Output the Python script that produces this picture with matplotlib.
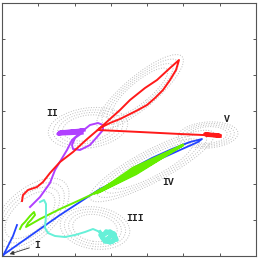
import matplotlib
matplotlib.use("Agg")
import matplotlib.pyplot as plt
from matplotlib.patches import Ellipse

# trajectories (units: pixels from the lower-left corner)
red_x = [20, 21, 26, 35, 41, 48, 58, 71, 84, 98, 108, 118, 128, 143, 155, 168, 177,
         174, 168, 161, 153, 145, 136, 128, 118, 108, 100, 96, 138, 178, 201, 218,
         203, 217, 204, 216]
red_y = [55, 61, 66, 69, 74, 83, 94, 104, 116, 128, 137, 146, 156, 168, 176, 188, 196,
         186, 176, 166, 158, 151, 146, 142, 137, 133, 129, 126, 124, 122, 121, 120,
         122, 121, 121, 120]

purple_x = [28, 33, 38, 43, 48, 53, 59, 65, 70, 78, 88, 96, 101, 101, 95, 88, 78, 71,
            70, 73, 80, 56, 81, 58, 80, 57, 82]
purple_y = [49, 54, 59, 66, 73, 86, 96, 106, 116, 123, 131, 133, 131, 126, 119, 111,
            106, 107, 111, 118, 123, 122, 126, 124, 125, 123, 126]

cyan_x = [38, 42, 44, 44, 43, 46, 53, 63, 73, 83, 91, 98]
cyan_y = [54, 56, 52, 41, 28, 23, 20, 19, 21, 24, 27, 24]
cyan_blob_x = [98, 101, 108, 113, 111, 102, 98, 106, 114, 108, 100, 104, 112, 115,
               103, 107, 110, 104]
cyan_blob_y = [24, 20, 25, 21, 14, 15, 21, 24, 18, 13, 18, 25, 23, 16, 14, 19, 20, 17]

green_x = [18, 20, 23, 28, 32, 33, 29, 26, 24, 38, 58, 78, 93]
green_y = [27, 31, 34, 40, 44, 41, 36, 33, 29, 37, 47, 56, 63]
green_bundle_x = [93, 132, 181, 134, 95, 131, 179, 134, 97, 133, 181, 133, 93]
green_bundle_y = [63, 86, 111, 83, 63, 88, 110, 82, 64, 85, 111, 84, 63]

blue_x = [1, 18, 38, 58, 78, 98, 118, 138, 158, 178, 196, 200, 188, 170, 150, 133,
          128]
blue_y = [1, 13, 27, 41, 54, 67, 77, 87, 97, 106, 114, 117, 114, 107, 98, 89,
          86]
blue_branch_x = [1, 5, 8, 11, 15]
blue_branch_y = [0, 8, 14, 20, 31]

labels = ["I", "II", "III", "IV", "V"]
label_x = [35, 50, 133, 166, 225]
label_y = [11, 143, 38, 74, 137]

# dotted density outlines: centre x, centre y, width, height, angle
blob_cx = [86, 138, 206, 150, 93, 28]
blob_cy = [128, 164, 121, 90, 28, 41]
blob_w = [80, 110, 60, 140, 70, 95]
blob_h = [40, 32, 26, 32, 42, 50]
blob_a = [8, 40, 4, 28, -8, 42]

fig = plt.figure(figsize=(2.59, 2.62), dpi=100)
ax = fig.add_axes([2 / 259, 6 / 262, 254 / 259, 253 / 262])

for cx, cy, w, h, a in zip(blob_cx, blob_cy, blob_w, blob_h, blob_a):
    for s in [1.0, 0.88, 0.76, 0.64]:
        ax.add_patch(Ellipse((cx, cy), w * s, h * s, angle=a, fill=False,
                             ec='#bcbcbc', lw=0.7, ls=':'))

ax.plot(blue_x, blue_y, color='#2244ff', lw=1.3)
ax.plot(blue_branch_x, blue_branch_y, color='#2244ff', lw=1.3)
ax.plot(green_x, green_y, color='#66ee00', lw=1.4)
ax.plot(green_bundle_x, green_bundle_y, color='#66ee00', lw=1.8)
ax.plot(cyan_x, cyan_y, color='#66f0d8', lw=1.4)
ax.plot(cyan_blob_x, cyan_blob_y, color='#66f0d8', lw=2.6)
ax.plot(purple_x[:21], purple_y[:21], color='#b040ff', lw=1.4)
ax.plot(purple_x[20:], purple_y[20:], color='#b040ff', lw=2.4)
ax.plot(red_x[:28], red_y[:28], color='#ff1a1a', lw=1.4)
ax.plot(red_x[27:], red_y[27:], color='#ff1a1a', lw=1.4)
ax.plot(red_x[31:], red_y[31:], color='#ff1a1a', lw=2.6)

for t, x, y in zip(labels, label_x, label_y):
    ax.text(x, y, t, fontsize=7, family='Liberation Mono', weight='bold',
            color='#222222', ha='center', va='center')

ax.annotate('', xy=(5, 1), xytext=(30, 9),
            arrowprops=dict(arrowstyle='-|>', color='#333333', lw=0.6,
                            mutation_scale=6))

ax.set_xlim(0, 254)
ax.set_ylim(0, 253)
ax.set_xticks([254 / 7 * k for k in range(8)])
ax.set_yticks([253 / 7 * k for k in range(8)])
ax.tick_params(direction='in', length=2.5, width=0.7, color='#555555',
               top=True, right=True, labelbottom=False, labelleft=False)
for sp in ax.spines.values():
    sp.set_color('#555555')
    sp.set_linewidth(0.8)

fig.savefig('out.png', dpi=100)
